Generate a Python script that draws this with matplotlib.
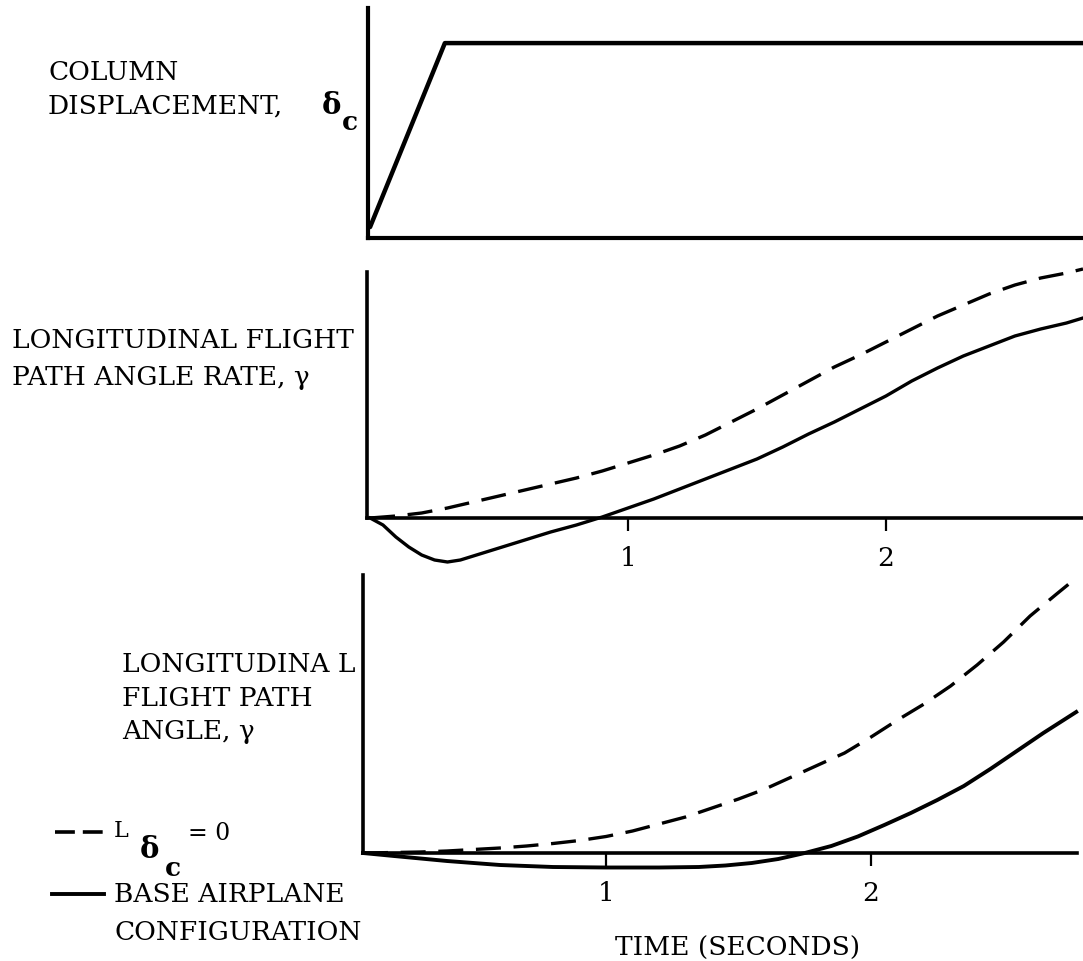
import matplotlib
matplotlib.use("Agg")
import matplotlib.pyplot as plt
from matplotlib.lines import Line2D

# ---- data -------------------------------------------------------------
# column displacement input (step with a linear ramp)
col_t = [0.0, 0.29, 2.77]
col_delta = [0.056, 1.0, 1.0]

# flight path angle rate, time in seconds
rate_dash_t = [0.0, 0.1, 0.2, 0.3, 0.4, 0.5, 0.6, 0.7, 0.8, 0.9, 1.0, 1.1,
               1.2, 1.3, 1.4, 1.5, 1.6, 1.7, 1.8, 1.9, 2.0, 2.1, 2.2, 2.3,
               2.4, 2.5, 2.6, 2.7, 2.764]
rate_dash = [0.0, 0.02, 0.05, 0.10, 0.16, 0.22, 0.28, 0.34, 0.40, 0.47, 0.55,
             0.63, 0.72, 0.83, 0.96, 1.09, 1.23, 1.37, 1.51, 1.63, 1.76, 1.89,
             2.02, 2.13, 2.24, 2.33, 2.40, 2.45, 2.49]

rate_base_t = [0.0, 0.05, 0.1, 0.15, 0.2, 0.25, 0.3, 0.35, 0.4, 0.5, 0.6,
               0.7, 0.8, 0.9, 1.0, 1.1, 1.2, 1.3, 1.4, 1.5, 1.6, 1.7, 1.8,
               1.9, 2.0, 2.1, 2.2, 2.3, 2.4, 2.5, 2.6, 2.7, 2.764]
rate_base = [0.0, -0.07, -0.19, -0.29, -0.37, -0.42, -0.44, -0.42, -0.38,
             -0.30, -0.22, -0.14, -0.07, 0.01, 0.10, 0.19, 0.29, 0.39, 0.49,
             0.59, 0.71, 0.84, 0.96, 1.09, 1.22, 1.37, 1.50, 1.62, 1.72, 1.82,
             1.89, 1.95, 2.00]

# flight path angle
ang_dash_t = [0.083, 0.2, 0.3, 0.4, 0.5, 0.6, 0.7, 0.8, 0.9, 1.0, 1.1, 1.2,
              1.3, 1.4, 1.5, 1.6, 1.7, 1.8, 1.9, 2.0, 2.1, 2.2, 2.3, 2.4,
              2.5, 2.6, 2.7, 2.774]
ang_dash = [0.0, 0.005, 0.01, 0.02, 0.035, 0.05, 0.07, 0.095, 0.125, 0.165,
            0.22, 0.29, 0.36, 0.45, 0.54, 0.64, 0.76, 0.88, 1.00, 1.16, 1.33,
            1.49, 1.67, 1.88, 2.11, 2.37, 2.59, 2.75]

ang_base_t = [0.083, 0.2, 0.3, 0.4, 0.5, 0.6, 0.7, 0.8, 1.0, 1.2, 1.35,
              1.45, 1.55, 1.65, 1.75, 1.85, 1.95, 2.05, 2.15, 2.25, 2.35,
              2.45, 2.55, 2.65, 2.774]
ang_base = [0.0, -0.03, -0.055, -0.08, -0.10, -0.12, -0.13, -0.14, -0.145,
            -0.145, -0.14, -0.125, -0.10, -0.06, 0.0, 0.07, 0.165, 0.28, 0.40,
            0.53, 0.67, 0.84, 1.02, 1.20, 1.41]

time_ticks = [1, 2]
time_ticklabels = ["1", "2"]

# ---- figure -----------------------------------------------------------
W, H = 1083, 961
fig = plt.figure(figsize=(W / 100, H / 100), dpi=100)
FONT = "DejaVu Serif"
FS = 19


def fx(px):
    return px / W


def fy(py):
    return 1 - py / H


def box(left, right, top, bottom):
    return [fx(left), fy(bottom), fx(right) - fx(left), fy(top) - fy(bottom)]


def ftext(x, y, s, **kw):
    kw.setdefault("fontsize", FS)
    kw.setdefault("family", FONT)
    kw.setdefault("va", "center")
    kw.setdefault("ha", "left")
    fig.text(fx(x), fy(y), s, **kw)


def style_axes(ax, ytop, spine_lw):
    for side in ("top", "right"):
        ax.spines[side].set_visible(False)
    ax.spines["left"].set_linewidth(spine_lw)
    ax.spines["bottom"].set_linewidth(spine_lw)
    ax.spines["bottom"].set_position(("data", 0))
    ax.spines["left"].set_bounds(0, ytop)
    ax.set_yticks([])
    ax.patch.set_visible(False)


# top panel: column displacement
ax1 = fig.add_axes(box(368, 1083, 8, 238))
ax1.set_xlim(-0.008, 2.764)
ax1.set_ylim(0, 1.18)
style_axes(ax1, 1.18, 3.0)
ax1.set_xticks([])
ax1.plot(col_t, col_delta, color="black", lw=3.2, solid_joinstyle="round",
         solid_capstyle="round", clip_on=False)

# middle panel: flight path angle rate
ax2 = fig.add_axes(box(367, 1083, 272, 575))
ax2.set_xlim(-0.012, 2.764)
ax2.set_ylim(-0.57, 2.46)
style_axes(ax2, 2.46, 2.6)
ax2.plot(rate_dash_t, rate_dash, color="black", lw=2.4, ls=(0, (7.5, 3.8)),
         clip_on=False)
ax2.plot(rate_base_t, rate_base, color="black", lw=2.4,
         solid_joinstyle="round", clip_on=False)

# bottom panel: flight path angle
ax3 = fig.add_axes(box(363, 1077, 575, 880))
ax3.set_xlim(0.083, 2.777)
ax3.set_ylim(-0.27, 2.78)
style_axes(ax3, 2.78, 2.6)
ax3.plot(ang_dash_t, ang_dash, color="black", lw=2.4, ls=(0, (7.5, 3.8)),
         clip_on=False)
ax3.plot(ang_base_t, ang_base, color="black", lw=2.8,
         solid_joinstyle="round", clip_on=False)

for ax in (ax2, ax3):
    ax.set_xticks(time_ticks)
    ax.set_xticklabels(time_ticklabels, family=FONT, fontsize=FS)
    ax.tick_params(axis="x", direction="out", length=9, width=1.6, pad=11)

# panel labels
ftext(48, 72, "COLUMN")
ftext(48, 106, "DISPLACEMENT,")
ftext(322, 106, "δ", fontweight="bold", fontsize=FS + 2)
ftext(342, 123, "c", fontweight="bold")

ftext(12, 340, "LONGITUDINAL FLIGHT")
ftext(12, 377, "PATH ANGLE RATE, γ")

ftext(122, 664, "LONGITUDINA L")
ftext(122, 698, "FLIGHT PATH")
ftext(122, 732, "ANGLE, γ")

ftext(738, 948, "TIME (SECONDS)", ha="center")

# key
fig.add_artist(Line2D([fx(55), fx(108)], [fy(832), fy(832)], color="black",
                      lw=2.6, ls=(0, (5.5, 2.2))))
fig.add_artist(Line2D([fx(52), fx(104)], [fy(894), fy(894)], color="black",
                      lw=2.8))
ftext(114, 831, "L", fontsize=FS - 3)
ftext(140, 850, "δ", fontweight="bold", fontsize=FS + 2)
ftext(165, 868, "c", fontweight="bold")
ftext(188, 833, "= 0", fontsize=FS - 2)
ftext(114, 895, "BASE AIRPLANE")
ftext(114, 933, "CONFIGURATION")

fig.savefig("out.png", dpi=100, facecolor="white")
